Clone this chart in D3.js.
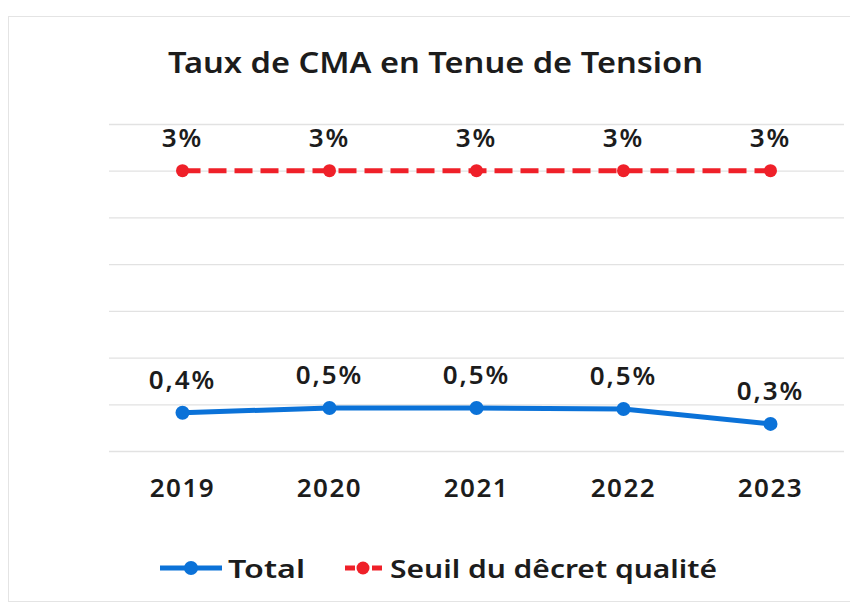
<!DOCTYPE html>
<html>
<head>
<meta charset="utf-8">
<script src="https://cdn.jsdelivr.net/npm/d3@7"></script>
<style>
  body { margin: 0; background: #fff; }
  text { font-family: "Noto Sans", sans-serif; fill: #1c1c1c; }
</style>
</head>
<body>
<div id="chart"></div>
<script>
// Data
const years = ["2019", "2020", "2021", "2022", "2023"];
const totalValues = [0.41, 0.46, 0.46, 0.45, 0.29];
const seuilValues = [3, 3, 3, 3, 3];
const yTicks = [0, 0.5, 1, 1.5, 2, 2.5, 3, 3.5];
const seriesNames = ["Total", "Seuil du dêcret qualité"];

const svgWidth = 850;
const svgHeight = 604;

const margin = {top: 124, right: 6, bottom: 153, left: 109};
const width = svgWidth - margin.left - margin.right;
const height = svgHeight - margin.top - margin.bottom;

const blue = "#0b72d8";
const red = "#ef2029";

const frFormat = d3.formatLocale({decimal: ",", thousands: " ", grouping: [3], currency: ["", "€"]});
const pct = v => (Number.isInteger(v) ? String(v) : frFormat.format(".1f")(v)) + "%";

const svg = d3.select("#chart")
  .append("svg")
  .attr("width", svgWidth)
  .attr("height", svgHeight);

// light frame of the scanned chart
svg.append("rect")
  .attr("x", 8.5)
  .attr("y", 16.5)
  .attr("width", 860)
  .attr("height", 585)
  .attr("fill", "none")
  .attr("stroke", "#e4e4e4");

// Title (stretched to match the wide original typeface)
svg.append("text")
  .attr("x", 168)
  .attr("y", 73)
  .attr("font-size", "28px")
  .attr("font-weight", 600)
  .attr("textLength", 535)
  .attr("lengthAdjust", "spacingAndGlyphs")
  .text("Taux de CMA en Tenue de Tension");

const chartGroup = svg.append("g")
  .attr("transform", `translate(${margin.left}, ${margin.top})`);

// Scales
const xScale = d3.scaleBand()
  .domain(years)
  .range([0, width]);

const yScale = d3.scaleLinear()
  .domain([0, 3.5])
  .range([height, 0]);

const xc = d => xScale(d) + xScale.bandwidth() / 2;

// Gridlines
const yAxis = d3.axisLeft(yScale)
  .tickValues(yTicks)
  .tickSize(-width)
  .tickFormat("");

chartGroup.append("g")
  .attr("class", "grid")
  .call(yAxis)
  .call(g => g.select(".domain").remove())
  .call(g => g.selectAll("line").attr("stroke", "#e2e2e2").attr("stroke-width", 1.3));

// x-axis labels
const xAxis = d3.axisBottom(xScale).tickSize(0).tickPadding(28);
chartGroup.append("g")
  .attr("transform", `translate(0, ${height})`)
  .call(xAxis)
  .call(g => g.select(".domain").remove())
  .call(g => g.selectAll("text")
    .attr("font-size", "26px")
    .attr("font-weight", 600)
    .attr("letter-spacing", "1.5px")
    .attr("fill", "#1c1c1c")
    .attr("font-family", "Noto Sans, sans-serif"));

// Lines
const line = d3.line()
  .x((d, i) => xc(years[i]))
  .y(d => yScale(d));

chartGroup.append("path")
  .datum(seuilValues)
  .attr("fill", "none")
  .attr("stroke", red)
  .attr("stroke-width", 5)
  .attr("stroke-dasharray", "18 8")
  .attr("d", line);

chartGroup.append("path")
  .datum(totalValues)
  .attr("fill", "none")
  .attr("stroke", blue)
  .attr("stroke-width", 5)
  .attr("d", line);

// Markers + labels
const addPoints = function(values, color, r, cls) {
  chartGroup.selectAll(`circle.${cls}`)
    .data(values)
    .enter()
    .append("circle")
    .attr("class", cls)
    .attr("cx", (d, i) => xc(years[i]))
    .attr("cy", d => yScale(d))
    .attr("r", r)
    .attr("fill", color);

  chartGroup.selectAll(`text.${cls}`)
    .data(values)
    .enter()
    .append("text")
    .attr("class", cls)
    .attr("x", (d, i) => xc(years[i]))
    .attr("y", d => yScale(d) - 24)
    .attr("text-anchor", "middle")
    .attr("font-size", "26px")
    .attr("font-weight", 600)
    .attr("letter-spacing", "2px")
    .text(d => pct(d));
};

addPoints(seuilValues, red, 6.5, "seuil");
addPoints(totalValues, blue, 7, "total");

// Legend
const legend = svg.append("g").attr("transform", "translate(0, 568)");

legend.append("line")
  .attr("x1", 160).attr("x2", 222)
  .attr("stroke", blue).attr("stroke-width", 5);
legend.append("circle")
  .attr("cx", 191).attr("r", 7).attr("fill", blue);
legend.append("text")
  .attr("x", 228).attr("y", 10)
  .attr("font-size", "26px").attr("font-weight", 600)
  .attr("textLength", 77).attr("lengthAdjust", "spacingAndGlyphs")
  .text(seriesNames[0]);

legend.append("line")
  .attr("x1", 345).attr("x2", 383)
  .attr("stroke", red).attr("stroke-width", 5)
  .attr("stroke-dasharray", "10 17");
legend.append("circle")
  .attr("cx", 363).attr("r", 6.5).attr("fill", red);
legend.append("text")
  .attr("x", 390).attr("y", 10)
  .attr("font-size", "26px").attr("font-weight", 600)
  .attr("textLength", 327).attr("lengthAdjust", "spacingAndGlyphs")
  .text(seriesNames[1]);
</script>
</body>
</html>
